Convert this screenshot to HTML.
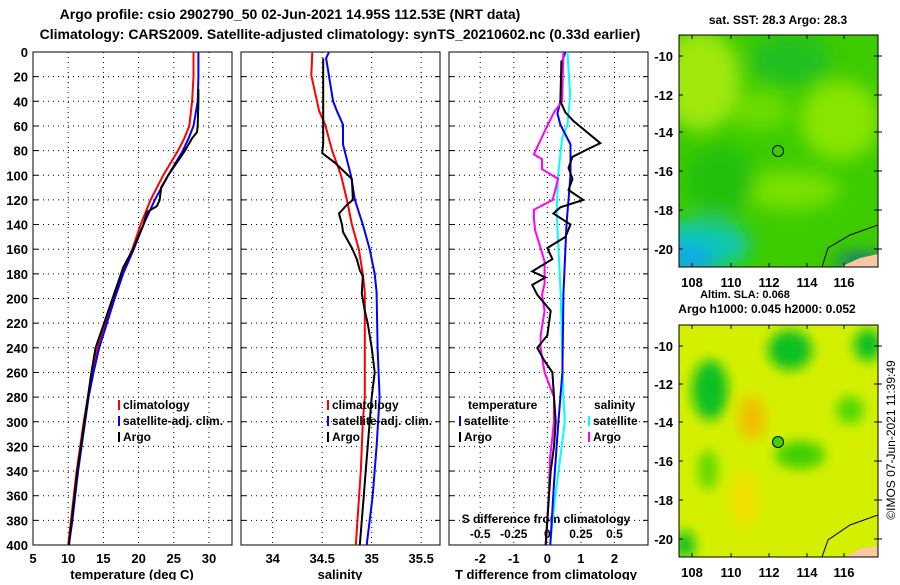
<!DOCTYPE html>
<html><head><meta charset="utf-8"><style>
body{margin:0;background:#fff;}
svg text{font-family:"Liberation Sans",sans-serif;font-weight:bold;fill:#000;}
</style></head><body>
<svg id="c" width="900" height="580" xmlns="http://www.w3.org/2000/svg">
<defs>
<filter id="blur1" x="-50%" y="-50%" width="200%" height="200%"><feGaussianBlur stdDeviation="9"/></filter>
<filter id="blur2" x="-50%" y="-50%" width="200%" height="200%"><feGaussianBlur stdDeviation="6"/></filter>
<clipPath id="cm1"><rect x="679" y="35" width="199" height="232"/></clipPath>
<clipPath id="cm2"><rect x="679" y="325" width="199" height="232"/></clipPath>
</defs>
<text x="290" y="19" font-size="14" text-anchor="middle">Argo profile: csio 2902790_50 02-Jun-2021 14.95S 112.53E (NRT data)</text>
<text x="340" y="39" font-size="14" text-anchor="middle">Climatology: CARS2009. Satellite-adjusted climatology: synTS_20210602.nc (0.33d earlier)</text>

<g id="maps">
<g clip-path="url(#cm1)">
<rect x="679" y="35" width="199" height="232" fill="#3ccc00"/>
<g filter="url(#blur1)">
<ellipse cx="700" cy="80" rx="40" ry="50" fill="#a0e810"/>
<ellipse cx="840" cy="120" rx="40" ry="40" fill="#88e400"/>
<ellipse cx="790" cy="190" rx="50" ry="20" fill="#78e000"/>
<ellipse cx="760" cy="110" rx="30" ry="20" fill="#6cdc00"/>
<ellipse cx="790" cy="60" rx="40" ry="25" fill="#20c020"/>
<ellipse cx="720" cy="180" rx="35" ry="35" fill="#20c010"/>
<ellipse cx="700" cy="245" rx="50" ry="25" fill="#10c8b0"/>
<ellipse cx="690" cy="260" rx="25" ry="15" fill="#10a8f0"/>
<ellipse cx="860" cy="262" rx="25" ry="6" fill="#0040d0"/>
</g>
<path d="M878 225 L850 235 L828 248 L822 267" fill="none" stroke="#000" stroke-width="1"/>
<path d="M840 267 L860 258 L878 254 L878 267Z" fill="#f8c8a0"/>
<circle cx="778" cy="151" r="5.5" fill="none" stroke="#000" stroke-width="1"/>
</g>
<rect x="679" y="35" width="199" height="232" fill="none" stroke="#000" stroke-width="1"/>
<g clip-path="url(#cm2)">
<rect x="679" y="325" width="199" height="232" fill="#d4f000"/>
<g filter="url(#blur2)">
<ellipse cx="710" cy="390" rx="18" ry="30" fill="#10c020"/>
<ellipse cx="790" cy="350" rx="22" ry="20" fill="#10c020"/>
<ellipse cx="868" cy="345" rx="14" ry="16" fill="#10c020"/>
<ellipse cx="850" cy="410" rx="14" ry="14" fill="#50d800"/>
<ellipse cx="800" cy="455" rx="25" ry="14" fill="#40d000"/>
<ellipse cx="708" cy="470" rx="10" ry="20" fill="#60d800"/>
<ellipse cx="752" cy="418" rx="14" ry="22" fill="#f0c000"/>
<ellipse cx="745" cy="500" rx="14" ry="28" fill="#f0e000"/>
<ellipse cx="685" cy="545" rx="10" ry="14" fill="#10c020"/>
</g>
<path d="M878 515 L850 525 L828 540 L822 557" fill="none" stroke="#000" stroke-width="1"/>
<path d="M845 557 L862 548 L878 546 L878 557Z" fill="#f8c8a0"/>
<circle cx="778" cy="442" r="5.5" fill="#40d000" stroke="#000" stroke-width="1"/>
</g>
<rect x="679" y="325" width="199" height="232" fill="none" stroke="#000" stroke-width="1"/>
<text x="778" y="24" font-size="12" text-anchor="middle">sat. SST: 28.3 Argo: 28.3</text>
<text x="745" y="298" font-size="11" text-anchor="middle">Altim. SLA: 0.068</text>
<text x="767" y="313" font-size="12" text-anchor="middle">Argo h1000: 0.045 h2000: 0.052</text>
<text x="895" y="440" font-size="12" text-anchor="middle" transform="rotate(-90 895 440)" style="font-weight:normal">©IMOS 07-Jun-2021 11:39:49</text>
</g>
<g id="plots"></g>
</svg>
<script>
// ---- data ----
const depths = [0,20,40,60,70,80,100,120,140,160,180,200,220,240,260,280,300,320,340,360,380,400];
const tempClim = [27.8,27.8,27.6,27.2,26.5,25.6,23.5,21.7,20.3,19.1,17.6,16.4,15.3,14.2,13.4,12.8,12.2,11.7,11.2,10.8,10.4,10.0];
const tempSat  = [28.5,28.5,28.4,27.8,27.1,26.3,24.2,22.3,20.7,19.3,17.8,16.6,15.5,14.4,13.6,12.9,12.4,11.9,11.4,11.0,10.6,10.1];
const tempArgoDepths = [30,40,60,65,70,80,100,110,120,125,130,140,160,175,180,200,220,240,250,260,280,300,320,340,360,380,400];
const tempArgo = [28.5,28.5,28.4,28.3,27.6,26.6,24.2,23.2,23.0,22.6,21.2,20.7,19.2,17.8,17.5,16.3,15.1,13.9,13.6,13.3,12.8,12.3,11.8,11.3,10.9,10.5,10.1];

const salClimDepths = [0,19,48,59,80,100,120,140,160,180,195,240,280,300,340,400];
const salClim = [34.40,34.39,34.47,34.53,34.60,34.69,34.75,34.80,34.87,34.91,34.93,34.93,34.93,34.91,34.89,34.84];
const salSatDepths = [0,5,40,48,59,75,100,120,140,160,180,195,240,280,320,360,400];
const salSat  = [34.57,34.54,34.61,34.65,34.71,34.71,34.79,34.83,34.91,34.98,35.03,35.05,35.06,35.08,35.05,35.01,34.95];
const salArgoDepths = [5,74,82,85,90,103,120,124,131,140,146,159,168,177,182,196,210,220,240,260,280,300,320,340,360,380,400];
const salArgo = [34.51,34.51,34.50,34.55,34.63,34.80,34.81,34.75,34.67,34.70,34.71,34.80,34.85,34.88,34.91,34.90,34.93,34.96,35.00,35.03,35.00,34.98,34.96,34.94,34.92,34.90,34.88];

const tDiffSatDepths = [0,7,40,50,59,75,100,120,140,197,260,300,350,400];
const tDiffSat  = [0.54,0.45,0.39,0.30,0.39,0.69,0.69,0.63,0.57,0.48,0.45,0.33,0.2,0.09];
const tDiffArgoDepths = [7,40,49,56,74,79,85,94,103,112,120,126,131,140,150,159,168,178,183,189,197,210,230,240,250,260,280,300,320,340,360,380,400];
const tDiffArgo = [0.42,0.39,0.54,0.78,1.58,1.19,0.75,0.63,0.75,0.63,1.07,0.39,0.18,0.69,0.54,0.0,0.15,-0.45,-0.06,-0.45,-0.30,0.1,0.0,-0.3,-0.1,0.15,0.2,0.25,0.2,0.1,0.05,0.0,-0.05];
const sDiffSatDepths = [0,35,59,70,100,130,197,280,300,360,400];
const sDiffSat  = [0.15,0.17,0.15,0.11,0.08,0.07,0.10,0.12,0.13,0.06,0.02];
const sDiffArgoDepths = [0,40,49,62,83,87,95,103,120,128,135,145,159,170,188,197,210,230,240,260,280,300,330,360,400];
const sDiffArgo = [0.12,0.11,0.05,-0.01,-0.10,-0.04,-0.04,0.08,0.04,-0.10,-0.10,-0.09,-0.05,-0.02,-0.02,-0.04,-0.02,-0.05,-0.05,-0.02,0.05,0.05,0.02,0.01,-0.01];

const tempTicks = [5,10,15,20,25,30];
const salTicks = [34,34.5,35,35.5];
const tdTicks = [-2,-1,0,1,2];
const sdTicks = [-0.5,-0.25,0,0.25,0.5];
const depthTicks = [0,20,40,60,80,100,120,140,160,180,200,220,240,260,280,300,320,340,360,380,400];

const NS='http://www.w3.org/2000/svg';
const root=document.getElementById('plots');
function mk(tag,attrs,parent){const e=document.createElementNS(NS,tag);for(const k in attrs)e.setAttribute(k,attrs[k]);(parent||root).appendChild(e);return e;}
const top0=52, bot=545;
const y=d=>top0+(d/400)*(bot-top0);
const panels=[{x0:33,x1:232,lo:5,hi:33.27},{x0:241,x1:440,lo:33.68,hi:35.69},{x0:449,x1:648,lo:-2.93,hi:3.0}];
const sx=(p,v)=>p.x0+(v-p.lo)/(p.hi-p.lo)*(p.x1-p.x0);
const sxS=v=>sx(panels[2],v*4);

panels.forEach((p,i)=>{
  const g=mk('g',{});
  
  
  depthTicks.forEach(d=>{
    if(d>0&&d<400){const l=mk('line',{x1:p.x0,x2:p.x1,y1:y(d),y2:y(d),stroke:'#000','stroke-width':1,'stroke-dasharray':'1 4'},g);
    }
    mk('line',{x1:p.x0,x2:p.x0+5,y1:y(d),y2:y(d),stroke:'#000'},g);
    mk('line',{x1:p.x1-5,x2:p.x1,y1:y(d),y2:y(d),stroke:'#000'},g);
    if(i==0){const t=mk('text',{x:28,y:y(d)+5,'font-size':13,'text-anchor':'end'},g);t.textContent=d;
      }
  });
  const r=mk('rect',{x:p.x0,y:top0,width:p.x1-p.x0,height:bot-top0,fill:'none',stroke:'#000','stroke-width':1},g);
  
});
function vgrid(p,ticks,fmt,ly,sc){
  ticks.forEach(v=>{const X=sc(v);
    if(X>p.x0+1&&X<p.x1-1){const l=mk('line',{x1:X,x2:X,y1:top0,y2:bot,stroke:'#000','stroke-dasharray':'1 4'});
    }
    const t=mk('text',{x:Math.min(X,p.x1-6),y:ly,'font-size':13,'text-anchor':'middle'});t.textContent=fmt(v);
    });
}
vgrid(panels[0],tempTicks,v=>v,563,v=>sx(panels[0],v));
vgrid(panels[1],salTicks,v=>v,563,v=>sx(panels[1],v));
vgrid(panels[2],tdTicks,v=>v,563,v=>sx(panels[2],v));
sdTicks.forEach(v=>{const t=mk('text',{x:sxS(v),y:538,'font-size':12,'text-anchor':'middle'});t.textContent=v;
  });
[['temperature (deg C)',132],['salinity',340],['T difference from climatology',546]].forEach(a=>{
  const t=mk('text',{x:a[1],y:579,'font-size':13,'text-anchor':'middle'});t.textContent=a[0];
  });
const st=mk('text',{x:546,y:523,'font-size':12,'text-anchor':'middle'});st.textContent='S difference from climatology';


function line(ds,vals,sc,color,name){
  const pts=vals.map((v,k)=>sc(v).toFixed(1)+','+y(ds[k]).toFixed(1)).join(' ');
  const l=mk('polyline',{points:pts,fill:'none',stroke:color,'stroke-width':2});
  
}
const p0=v=>sx(panels[0],v),p1=v=>sx(panels[1],v),p2=v=>sx(panels[2],v);
line(depths,tempClim,p0,'#f00','temp-climatology-line');
line(depths,tempSat,p0,'#00f','temp-satellite-line');
line(tempArgoDepths,tempArgo,p0,'#000','temp-argo-line');
line(salClimDepths,salClim,p1,'#f00','sal-climatology-line');
line(salSatDepths,salSat,p1,'#00f','sal-satellite-line');
line(salArgoDepths,salArgo,p1,'#000','sal-argo-line');
line(sDiffSatDepths,sDiffSat,sxS,'#0ff','sdiff-satellite-line');
line(tDiffSatDepths,tDiffSat,p2,'#00f','tdiff-satellite-line');
line(sDiffArgoDepths,sDiffArgo,sxS,'#f0f','sdiff-argo-line');
line(tDiffArgoDepths,tDiffArgo,p2,'#000','tdiff-argo-line');

function legend(x,yy,items){
  items.forEach((it,k)=>{const Y=yy+k*16;
    if(it[1]){const m=mk('rect',{x:x,y:Y-9,width:2,height:10,fill:it[1]});}
    const t=mk('text',{x:x+(it[1]?5:0),y:Y,'font-size':12});t.textContent=it[0];
    });
}
legend(118,409,[['climatology','#f00'],['satellite-adj. clim.','#00f'],['Argo','#000']]);
legend(327,409,[['climatology','#f00'],['satellite-adj. clim.','#00f'],['Argo','#000']]);
legend(468,409,[['temperature',null]]);
legend(459,425,[['satellite','#00f'],['Argo','#000']]);
legend(594,409,[['salinity',null]]);
legend(588,425,[['satellite','#0ff'],['Argo','#f0f']]);

function mapAxes(y0,y1,latY,labY){
  [[108,692],[110,731],[112,769],[114,807],[116,844]].forEach(a=>{
    mk('line',{x1:a[1],x2:a[1],y1:y0,y2:y0+4,stroke:'#000'});mk('line',{x1:a[1],x2:a[1],y1:y1-4,y2:y1,stroke:'#000'});
    const t=mk('text',{x:a[1],y:labY,'font-size':13,'text-anchor':'middle'});t.textContent=a[0];
    });
  latY.forEach((Y,k)=>{mk('line',{x1:679,x2:683,y1:Y,y2:Y,stroke:'#000'});mk('line',{x1:874,x2:882,y1:Y,y2:Y,stroke:'#000'});
    const t=mk('text',{x:673,y:Y+5,'font-size':13,'text-anchor':'end'});t.textContent=-10-2*k;
    });
}
mapAxes(35,267,[56,95,132,171,210,249],287);
mapAxes(325,557,[346,384,422,461,500,539],577);
</script>
</body></html>
